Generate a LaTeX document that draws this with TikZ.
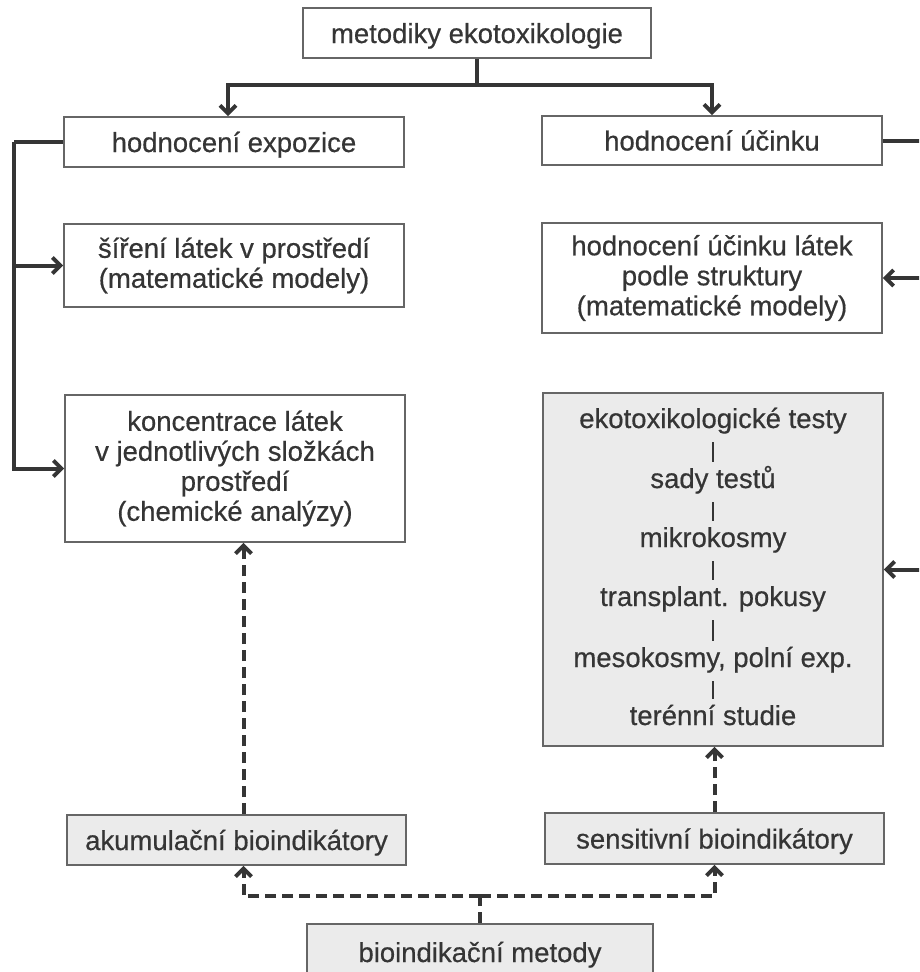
\documentclass[tikz,border=0pt]{standalone}
\usepackage{fontspec}
\setmainfont[FakeBold=0.5]{Liberation Sans}
\usetikzlibrary{arrows.meta}
\definecolor{ink}{HTML}{353535}
\definecolor{frame}{HTML}{666666}
\definecolor{fillg}{HTML}{EBEBEB}
\newcommand{\fs}{\fontsize{27.5}{30}\selectfont}
\begin{document}
\begin{tikzpicture}[x=1pt,y=-1pt,
  box/.style={draw=frame,line width=1.8pt,fill=white,inner sep=0pt,text=ink,font=\fs,align=center},
  one/.style={text height=23pt,text depth=3pt},
  gbox/.style={box,fill=fillg},
  lbl/.style={text=ink,font=\fs,inner sep=0pt,anchor=base},
  conn/.style={draw=ink,line width=4pt},
  tip/.style={-{Straight Barb[length=8pt,width=16pt,line width=3.8pt]}},
  dsh/.style={conn,dash pattern=on 11pt off 6pt},
  chainln/.style={draw=ink,line width=2.4pt}]
\useasboundingbox (0,0) rectangle (919,972);
\fill[white] (0,0) rectangle (919,972);
\clip (0,0) rectangle (919,972);

% boxes
\node[box,one,minimum width=348pt,minimum height=50pt] (top) at (477,33) {metodiky ekotoxikologie};
\node[box,one,minimum width=340pt,minimum height=50pt] (he) at (234,142) {hodnocení expozice};
\node[box,one,minimum width=340pt,minimum height=49pt] (hu) at (712,140.5) {hodnocení účinku};
\node[box,minimum width=340pt,minimum height=83pt] (sl) at (234,265.5) {šíření látek v prostředí\\(matematické modely)};
\node[box,minimum width=340pt,minimum height=110pt] (hul) at (712,278) {hodnocení účinku látek\\podle struktury\\(matematické modely)};
\node[box,minimum width=340pt,minimum height=147pt] (kl) at (235,468.5) {koncentrace látek\\v jednotlivých složkách\\prostředí\\(chemické analýzy)};
\node[gbox,minimum width=340pt,minimum height=353pt] (gr) at (713,569.5) {};
\node[gbox,one,minimum width=339pt,minimum height=50pt] (ak) at (236.5,840) {akumulační bioindikátory};
\node[gbox,one,minimum width=339pt,minimum height=51pt] (se) at (714.5,838.5) {sensitivní bioindikátory};
\node[gbox,minimum width=346pt,minimum height=86pt] (bm) at (480,967) {};
\node[lbl] (bmt) at (480,962) {bioindikační metody};

% grey box list
\node[lbl] (g1) at (713,428) {ekotoxikologické testy};
\node[lbl] (g2) at (713,488) {sady testů};
\node[lbl] (g3) at (713,547) {mikrokosmy};
\node[lbl] (g4) at (713,606) {transplant. pokusy};
\node[lbl] (g5) at (713,667) {mesokosmy, polní exp.};
\node[lbl] (g6) at (713,725) {terénní studie};
\foreach \a/\b in {g1/g2,g2/g3,g3/g4,g4/g5,g5/g6}
  \draw[chainln] ([yshift=-14pt]\a.base) -- ([yshift=26pt]\b.base);

% top connectors
\coordinate (tj) at ([yshift=-26pt]top.south);
\draw[conn] (top.south) -- (tj);
\draw[conn,tip] (tj) -| ([xshift=-6pt]he.north);
\draw[conn,tip] (tj) -| (hu.north);

% left connectors
\coordinate (lc) at ([xshift=-49pt]he.west);
\draw[conn] (he.west) -- (lc);
\draw[conn,tip] (lc) |- (sl.west);
\draw[conn,tip] (lc) |- (kl.west);

% right connectors (run off the picture)
\coordinate (rc) at ([xshift=60pt]hu.east);
\draw[conn] (hu.east) -- (rc);
\draw[conn,tip] (rc) |- (hul.east);
\draw[conn,tip] (rc) |- (gr.east);

% dashed connectors
\draw[dsh,tip] ([xshift=7pt]ak.north) -- ([xshift=7pt]ak.north |- kl.south);
\draw[dsh,tip] (se.north) -- (se.north |- gr.south);
\coordinate (bj) at ([yshift=27pt]bm.north);
\draw[dsh] (bm.north) -- (bj);
\draw[dsh,tip] (bj) -| ([xshift=7pt]ak.south);
\draw[dsh,tip] (bj) -| (se.south);
\end{tikzpicture}
\end{document}
